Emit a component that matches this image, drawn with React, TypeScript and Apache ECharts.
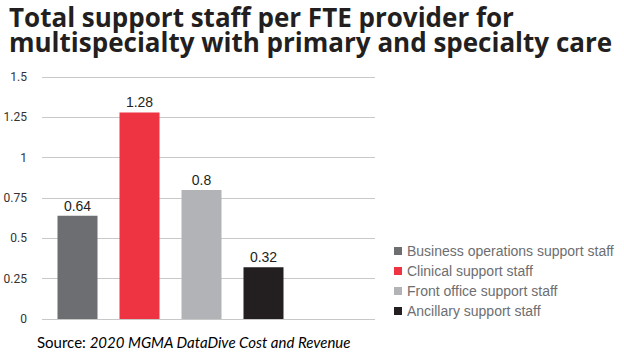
import React, { useEffect, useRef } from "react";
import * as echarts from "echarts";

const titleLines = [
  "Total support staff per FTE provider for",
  "multispecialty with primary and specialty care",
];
const seriesNames = [
  "Business operations support staff",
  "Clinical support staff",
  "Front office support staff",
  "Ancillary support staff",
];
const seriesValues = [0.64, 1.28, 0.8, 0.32];
const seriesColors = ["#6d6e71", "#ee3342", "#b1b3b6", "#231f20"];
const category = ["Multispecialty"];
const yMin = 0;
const yMax = 1.5;
const yInterval = 0.25;
const sourceLabel = "Source: ";
const sourceText = "2020 MGMA DataDive Cost and Revenue";

export default function App() {
  const ref = useRef<HTMLDivElement>(null);
  useEffect(() => {
    if (!ref.current) return;
    const chart = echarts.init(ref.current, null, { renderer: "svg" });
    const grids = [
      { left: 42, right: 249, top: 77, bottom: 45 },
      { left: 42, width: 257, top: 77, bottom: 45 },
    ];
    chart.setOption({
      animation: false,
      backgroundColor: "#ffffff",
      title: titleLines.map((t, i) => ({
        text: t,
        left: 9,
        top: 5 + i * 25,
        padding: 0,
        textStyle: {
          fontFamily: "Open Sans",
          fontWeight: "bold",
          fontSize: 26,
          lineHeight: 24,
          color: "#231f20",
        },
      })),
      grid: grids,
      xAxis: [
        { type: "category", data: category, gridIndex: 0, show: false },
        { type: "category", data: category, gridIndex: 1, show: false },
      ],
      yAxis: [
        {
          type: "value",
          gridIndex: 0,
          min: yMin,
          max: yMax,
          interval: yInterval,
          axisLine: { show: false },
          axisTick: { show: false },
          axisLabel: {
            margin: 15,
            fontFamily: "Liberation Sans Narrow, Roboto",
            fontSize: 12,
            color: "#333",
          },
          splitLine: { lineStyle: { color: "#c8c8c8", width: 1 } },
        },
        {
          type: "value",
          gridIndex: 1,
          min: yMin,
          max: yMax,
          interval: yInterval,
          show: false,
          splitLine: { show: false },
        },
      ],
      legend: {
        orient: "vertical",
        left: 394,
        top: 243,
        padding: 0,
        itemWidth: 8,
        itemHeight: 8,
        itemGap: 4,
        icon: "rect",
        textStyle: {
          fontFamily: "Liberation Sans",
          fontSize: 14,
          lineHeight: 16,
          color: "#6d6e71",
        },
        data: seriesNames,
      },
      series: seriesNames.map((name, i) => ({
        type: "bar",
        name,
        xAxisIndex: 1,
        yAxisIndex: 1,
        data: [seriesValues[i]],
        barWidth: 40,
        barGap: "55%",
        itemStyle: { color: seriesColors[i] },
        label: {
          show: true,
          position: "top",
          distance: 3,
          fontFamily: "Liberation Sans",
          fontSize: 14,
          color: "#231f20",
        },
      })),
      graphic: [
        {
          type: "text",
          left: 37,
          top: 334,
          style: {
            text: `{a|${sourceLabel}}{b|${sourceText}}`,
            rich: {
              a: { fontFamily: "Lato", fontSize: 15, color: "#939393" },
              b: { fontFamily: "Lato", fontStyle: "italic", fontSize: 15, color: "#939393" },
            },
          },
        },
      ],
    });
    return () => chart.dispose();
  }, []);
  return <div ref={ref} style={{ width: 624, height: 364, position: "absolute", left: 0, top: 0 }} />;
}
